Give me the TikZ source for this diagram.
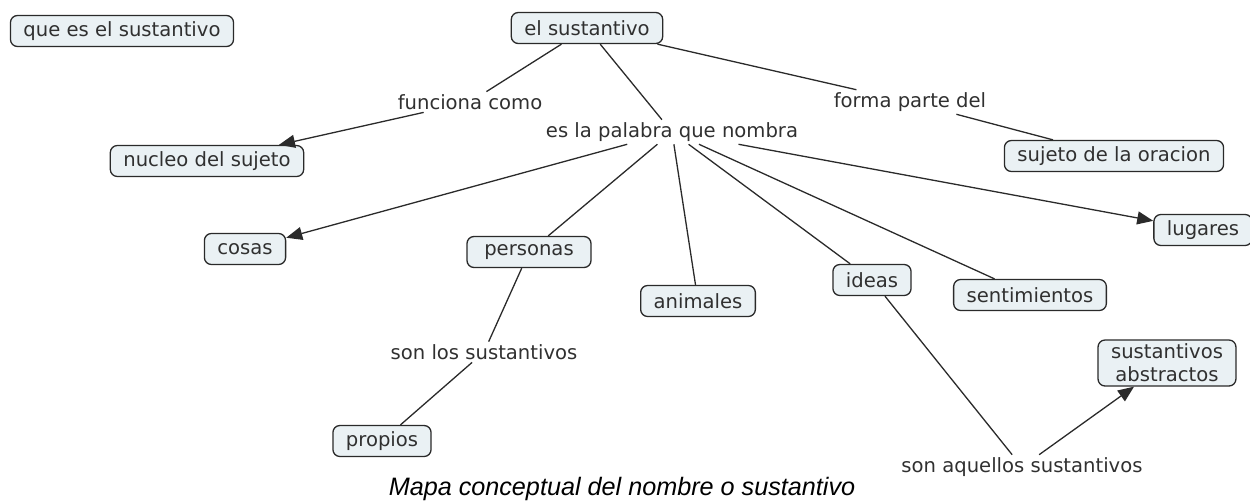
\documentclass[tikz,border=0pt]{standalone}
\usepackage{fontspec}
\setmainfont{DejaVu Sans}
\newfontfamily\captionfont{Liberation Sans}
\usepackage{tikz}
\usetikzlibrary{arrows.meta}

\definecolor{cmapfill}{HTML}{EAF1F4}
\definecolor{cmapline}{HTML}{2A2A2A}
\definecolor{cmaptext}{HTML}{303030}

\begin{document}
\begin{tikzpicture}[x=0.5pt, y=-0.5pt,
    concept/.style={draw=cmapline, fill=cmapfill, line width=0.65pt, rounded corners=3.5pt,
        text=cmaptext, font=\fontsize{9.8}{11.5}\selectfont, inner xsep=6.5pt, inner ysep=0pt,
        minimum height=15.5pt},
    linkphrase/.style={text=cmaptext, font=\fontsize{9.8}{11.5}\selectfont, inner sep=1.2pt},
    link/.style={draw=cmapline, line width=0.65pt},
    linkto/.style={link, -{Triangle[length=8pt,width=6.5pt]}}]
    \useasboundingbox (0,0) rectangle (1250,504);

    % concepts
    \node[concept] (que) at (122,31) {que es el sustantivo};
    \node[concept] (sust) at (587,28) {el sustantivo};
    \node[concept] (nucleo) at (207,161) {nucleo del sujeto};
    \node[concept] (sujeto) at (1114,156) {sujeto de la oracion};
    \node[concept] (cosas) at (245,249) {cosas};
    \node[concept, minimum width=62pt] (personas) at (529,252) {personas};
    \node[concept] (animales) at (698,301) {animales};
    \node[concept] (ideas) at (872,280) {ideas};
    \node[concept] (sentim) at (1030,295) {sentimientos};
    \node[concept] (lugares) at (1203,230) {lugares};
    \node[concept] (propios) at (382,441) {propios};
    \node[concept, align=center, minimum height=23pt] (abstractos) at (1167,363) {sustantivos\\abstractos};

    % linking phrases
    \node[linkphrase] (funciona) at (470,102) {funciona como};
    \node[linkphrase] (palabra) at (672,132) {es la palabra que nombra};
    \node[linkphrase] (forma) at (910,102) {forma parte del};
    \node[linkphrase] (sonlos) at (484,352) {son los sustantivos};
    \node[linkphrase] (aquellos) at (1022,467) {son aquellos sustantivos};

    % connections
    \draw[link] (sust) -- (funciona);
    \draw[linkto] (funciona) -- (nucleo);
    \draw[link] (sust) -- (palabra);
    \draw[link] (sust) -- (forma);
    \draw[link] (forma) -- (sujeto);
    \draw[linkto] (palabra) -- (cosas);
    \draw[link] (palabra) -- (personas);
    \draw[link] (palabra) -- (animales);
    \draw[link] (palabra) -- (ideas);
    \draw[link] (palabra) -- (sentim);
    \draw[linkto] (palabra) -- (lugares);
    \draw[link] (personas) -- (sonlos);
    \draw[link] (sonlos) -- (propios);
    \draw[link] (ideas) -- (aquellos);
    \draw[linkto] (aquellos) -- (abstractos);

    \node[font=\captionfont\itshape\fontsize{12.6}{14.5}\selectfont] (titulo) at (622,489)
        {Mapa conceptual del nombre o sustantivo};
\end{tikzpicture}
\end{document}
